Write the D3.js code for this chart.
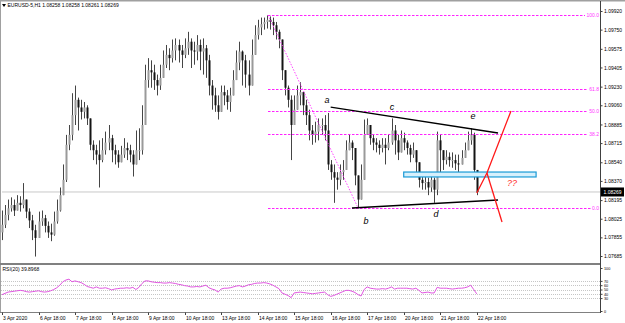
<!DOCTYPE html>
<html><head><meta charset="utf-8">
<script src="https://cdn.jsdelivr.net/npm/d3@7"></script>
<style>
html,body{margin:0;padding:0;background:#fff;overflow:hidden}
svg{display:block}
text{font-family:"Liberation Sans",Arial,sans-serif}
</style>
</head><body>
<svg id="c" width="625" height="323"></svg>
<script>
// ---------- DATA (2-hour bars starting 3 Apr 2020 18:00) ----------
const firstOpen = 1.0790;
const closes = [1.0797,1.0806,1.0812,1.0815,1.0810,1.0817,1.0815,1.0820,1.0809,1.0801,
1.0792,1.0785,1.0800,1.0803,1.0796,1.0790,1.0788,1.0800,1.0810,1.0824,
1.0838,1.0870,1.0879,1.0897,1.0911,1.0904,1.0900,1.0904,1.0894,1.0870,
1.0865,1.0861,1.0856,1.0865,1.0872,1.0876,1.0865,1.0861,1.0854,1.0861,
1.0867,1.0865,1.0861,1.0852,1.0865,1.0865,1.0888,1.0929,1.0938,1.0936,
1.0929,1.0924,1.0931,1.0943,1.0952,1.0949,1.0956,1.0961,1.0956,1.0952,
1.0958,1.0964,1.0956,1.0955,1.0961,1.0955,1.0958,1.0947,1.0924,1.0915,
1.0906,1.0900,1.0918,1.0915,1.0909,1.0915,1.0929,1.0945,1.0955,1.0947,
1.0934,1.0924,1.0952,1.0970,1.0977,1.0980,1.0982,1.0984,1.0982,1.0979,
1.0973,1.0966,1.0938,1.0922,1.0911,1.0888,1.0902,1.0915,1.0918,1.0906,
1.0897,1.0883,1.0879,1.0882,1.0888,1.0888,1.0883,1.0852,1.0845,1.0840,
1.0838,1.0845,1.0847,1.0865,1.0872,1.0867,1.0842,1.0820,1.0838,1.0879,
1.0888,1.0876,1.0872,1.0870,1.0867,1.0870,1.0867,1.0872,1.0883,1.0874,
1.0863,1.0876,1.0872,1.0867,1.0861,1.0865,1.0854,1.0838,1.0835,1.0836,
1.0831,1.0838,1.0829,1.0874,1.0865,1.0856,1.0859,1.0856,1.0856,1.0853,
1.0852,1.0858,1.0865,1.0874,1.0879,1.0847,1.08269];
const highs = [1.0810,1.0815,1.0820,1.0822,1.0820,1.0824,1.0823,1.0835,1.0820,1.0812,
1.0806,1.0797,1.0809,1.0810,1.0806,1.0800,1.0798,1.0809,1.0820,1.0831,
1.0852,1.0879,1.0888,1.0917,1.0924,1.0913,1.0911,1.0909,1.0906,1.0893,
1.0874,1.0870,1.0874,1.0876,1.0882,1.0888,1.0879,1.0870,1.0865,1.0869,
1.0876,1.0872,1.0870,1.0865,1.0883,1.0885,1.0906,1.0943,1.0949,1.0947,
1.0943,1.0934,1.0943,1.0956,1.0961,1.0958,1.0966,1.0967,1.0966,1.0961,
1.0967,1.0973,1.0967,1.0964,1.0970,1.0966,1.0967,1.0961,1.0952,1.0929,
1.0922,1.0915,1.0924,1.0924,1.0920,1.0922,1.0938,1.0956,1.0964,1.0956,
1.0952,1.0947,1.0966,1.0979,1.0984,1.0986,1.0986,1.0988,1.0987,1.0986,
1.0982,1.0975,1.0966,1.0934,1.0924,1.0915,1.0915,1.0924,1.0927,1.0915,
1.0911,1.0902,1.0888,1.0891,1.0894,1.0894,1.0897,1.0899,1.0856,1.0852,
1.0845,1.0852,1.0856,1.0874,1.0879,1.0874,1.0865,1.0838,1.0852,1.0893,
1.0894,1.0888,1.0879,1.0876,1.0874,1.0876,1.0876,1.0879,1.0894,1.0888,
1.0879,1.0883,1.0881,1.0874,1.0870,1.0872,1.0865,1.0852,1.0842,1.0842,
1.0840,1.0845,1.0840,1.0882,1.0879,1.0865,1.0865,1.0863,1.0863,1.0861,
1.0861,1.0865,1.0872,1.0882,1.0885,1.0881,1.0847];
const lows = [1.0783,1.0794,1.0801,1.0809,1.0805,1.0810,1.0809,1.0812,1.0803,1.0794,
1.0783,1.0768,1.0787,1.0796,1.0790,1.0785,1.0782,1.0787,1.0798,1.0809,
1.0824,1.0836,1.0865,1.0874,1.0888,1.0883,1.0893,1.0894,1.0888,1.0865,
1.0856,1.0852,1.0831,1.0854,1.0861,1.0865,1.0854,1.0852,1.0849,1.0854,
1.0858,1.0856,1.0854,1.0841,1.0856,1.0856,1.0861,1.0897,1.0922,1.0922,
1.0920,1.0915,1.0920,1.0934,1.0940,1.0938,1.0945,1.0947,1.0945,1.0940,
1.0949,1.0952,1.0940,1.0943,1.0947,1.0938,1.0934,1.0931,1.0915,1.0902,
1.0900,1.0893,1.0906,1.0906,1.0902,1.0900,1.0915,1.0929,1.0938,1.0924,
1.0922,1.0915,1.0938,1.0956,1.0966,1.0970,1.0975,1.0976,1.0975,1.0970,
1.0966,1.0958,1.0929,1.0915,1.0904,1.0856,1.0888,1.0902,1.0906,1.0897,
1.0888,1.0874,1.0870,1.0872,1.0874,1.0879,1.0874,1.0847,1.0838,1.0817,
1.0829,1.0833,1.0838,1.0856,1.0865,1.0856,1.0833,1.0812,1.0820,1.0842,
1.0879,1.0870,1.0865,1.0863,1.0861,1.0863,1.0852,1.0865,1.0870,1.0861,
1.0856,1.0867,1.0865,1.0861,1.0854,1.0858,1.0842,1.0831,1.0829,1.0829,
1.0824,1.0827,1.0817,1.0824,1.0842,1.0847,1.0852,1.0850,1.0849,1.0847,
1.0845,1.0852,1.0858,1.0865,1.0870,1.0838,1.0824];
const rsiValues = [38,41,44,45,46,47,48,47,45,44,
45,46,47,45,44,45,47,50,54,60,
68,72,74,68,70,68,66,62,57,55,
53,56,53,53,54,52,49,51,52,53,
53,54,53,55,50,55,64,70,70,68,
67,66,66,65,65,66,65,64,62,61,
59,58,56,56,57,56,58,60,54,51,
49,44,51,53,53,54,56,58,59,56,
58,61,62,64,65,65,66,65,63,60,
56,52,42,39,36,31,42,43,44,43,
42,41,40,41,42,43,44,38,34,36,
39,42,45,48,48,46,43,38,35,50,
56,53,52,51,51,52,51,53,56,51,
53,53,53,53,52,51,53,48,42,43,
44,42,42,55,53,53,53,52,51,52,
53,53,54,56,60,50,39.8968];
const barStepHours = 2;
const lastPrice = 1.08269;
const titleText = "EURUSD-5,H1  1.08258 1.08258 1.08261 1.08269";
const rsiTitle = "RSI(20) 39.8968";

const priceTicks = [1.09920,1.09750,1.09575,1.09405,1.09230,1.09060,1.08885,1.08715,1.08540,1.08370,1.08195,1.08025,1.07855,1.07685];
const rsiTicks = [100,70,60,50,40,30,0];
const rsiLevels = [70,60,50,40,30];
const timeTickHours = [0,24,48,72,96,120,144,168,192,216,240,264,288,312];
const timeTickLabels = ["3 Apr 2020","6 Apr 18:00","7 Apr 18:00","8 Apr 18:00","9 Apr 18:00","10 Apr 18:00","13 Apr 18:00","14 Apr 18:00","15 Apr 18:00","16 Apr 18:00","17 Apr 18:00","20 Apr 18:00","21 Apr 18:00","22 Apr 18:00"];

// Fibonacci retracement (hour, price) anchors & levels
const fibHigh = [174.8, 1.09884];
const fibLow = [234, 1.08123];
const fibLevels = [0, 38.2, 50, 61.8, 100];
const fibLabels = ["0.0","38.2","50.0","61.8","100.0"];

// Triangle trend lines (hour, price)
const upperLine = [[216, 1.09044],[326, 1.08807]];
const lowerLine = [[230, 1.08123],[326, 1.08196]];
const waveNames = ["a","b","c","d","e"];
const waveHours = [213.6, 239.2, 256.3, 285.2, 309.5];
const wavePrices = [1.09108, 1.08004, 1.09044, 1.08068, 1.08962];
// Blue zone and red projection
const zoneHours = [264, 351];
const zonePrices = [1.08406, 1.08451];
const projUp = [[312, 1.08260],[318.7, 1.08442],[334.5, 1.09008]];
const projDown = [[318.7, 1.08442],[328.6, 1.07995]];
const qLabel = {text:"??", hour:335.2, price:1.08351};

// ---------- DRAW ----------
const svg = d3.select("#c");
const x = d3.scaleLinear().domain([0, 393]).range([2, 600]);
const y = d3.scaleLinear().domain([1.07685, 1.09920]).range([256, 11]);
const yr = d3.scaleLinear().domain([0, 100]).range([311, 268]);

svg.append("rect").attr("width",625).attr("height",323).attr("fill","#fff");
svg.append("defs").append("clipPath").attr("id","mainClip")
  .append("rect").attr("x",1).attr("y",2).attr("width",600).attr("height",261);

// frame
svg.append("rect").attr("x",0).attr("y",0).attr("width",625).attr("height",1.5).attr("fill","#a0a0a0");
svg.append("line").attr("x1",0.5).attr("x2",0.5).attr("y1",0).attr("y2",312).attr("stroke","#a0a0a0");
svg.append("rect").attr("x",0).attr("y",263).attr("width",601).attr("height",2).attr("fill","#808080");
svg.append("line").attr("x1",0).attr("x2",601).attr("y1",312.5).attr("y2",312.5).attr("stroke","#808080");

const main = svg.append("g").attr("clip-path","url(#mainClip)");

// current price line
main.append("line").attr("x1",x(0)).attr("x2",600).attr("y1",y(lastPrice)).attr("y2",y(lastPrice))
  .attr("stroke","#c8c8c8").attr("stroke-width",1);

// fib
const fibPrice = l => fibLow[1] + (fibHigh[1]-fibLow[1])*l/100;
const fibG = svg.append("g");
fibG.append("line").attr("x1",x(fibHigh[0])).attr("y1",y(fibHigh[1])).attr("x2",x(fibLow[0])).attr("y2",y(fibLow[1]))
  .attr("stroke","#ff44ff").attr("stroke-width",1).attr("stroke-dasharray","1.5,1.5");
fibLevels.forEach((l,i)=>{
  const yy = Math.round(y(fibPrice(l)));
  const t = fibG.append("text").attr("x",599).attr("y",yy+1.8).attr("text-anchor","end")
    .attr("font-size",5).attr("fill","#ff33ff").text(fibLabels[i]);
  const w = t.node().getComputedTextLength();
  fibG.append("rect").attr("x",Math.round(x(fibHigh[0]))).attr("y",yy)
    .attr("width",Math.round(599-w-1)-Math.round(x(fibHigh[0]))).attr("height",1)
    .attr("fill","url(#fibDash)");
});
// dashed pattern for fib level lines
const pat = svg.select("defs").append("pattern").attr("id","fibDash").attr("patternUnits","userSpaceOnUse")
  .attr("width",4).attr("height",1);
pat.append("rect").attr("width",2.5).attr("height",1).attr("fill","#ff22ff");

// candles
const bars = closes.map((c,i)=>({h:i*barStepHours, o: i===0?firstOpen:closes[i-1], c, hi:highs[i], lo:lows[i]}));
const cg = main.append("g");
cg.selectAll("line.w").data(bars).join("line").attr("class","w")
  .attr("x1",d=>Math.round(x(d.h))+0.5).attr("x2",d=>Math.round(x(d.h))+0.5)
  .attr("y1",d=>y(Math.max(d.hi,d.o,d.c))).attr("y2",d=>y(Math.min(d.lo,d.o,d.c)))
  .attr("stroke","#454545").attr("stroke-width",1);
cg.selectAll("rect.b").data(bars).join("rect").attr("class","b")
  .attr("x",d=>Math.round(x(d.h))-0.5).attr("width",2)
  .attr("y",d=>y(Math.max(d.o,d.c))).attr("height",d=>Math.max(1,Math.abs(y(d.o)-y(d.c))))
  .attr("fill",d=>d.c>=d.o?"#9a9a9a":"#141414");

// triangle lines
const lineGen = d3.line().x(d=>x(d[0])).y(d=>y(d[1]));
[upperLine, lowerLine].forEach(L=>{
  svg.append("path").attr("d",lineGen(L)).attr("stroke","#000").attr("stroke-width",1.3).attr("fill","none");
});
waveNames.forEach((n,i)=>{
  svg.append("text").attr("x",x(waveHours[i])).attr("y",y(wavePrices[i])+3)
    .attr("text-anchor","middle").attr("font-size",9).attr("font-style","italic").attr("fill","#000").text(n);
});

// blue zone
svg.append("rect").attr("x",x(zoneHours[0])).attr("y",y(zonePrices[1]))
  .attr("width",x(zoneHours[1])-x(zoneHours[0])).attr("height",y(zonePrices[0])-y(zonePrices[1]))
  .attr("fill","#d6f0fc").attr("stroke","#1a9ad6").attr("stroke-width",1.2);

// red projection
[projUp, projDown].forEach(L=>{
  svg.append("path").attr("d",lineGen(L)).attr("stroke","#ff1a1a").attr("stroke-width",1.3).attr("fill","none");
});
svg.append("text").attr("x",x(qLabel.hour)).attr("y",y(qLabel.price)+3).attr("text-anchor","middle")
  .attr("font-size",9).attr("font-style","italic").attr("fill","#ff3030").text(qLabel.text);

// price axis
svg.append("line").attr("x1",600.5).attr("x2",600.5).attr("y1",1).attr("y2",313).attr("stroke","#404040");
const pa = svg.append("g").attr("transform","translate(600.5,0)")
  .call(d3.axisRight(y).tickValues(priceTicks).tickSize(2).tickPadding(1.5).tickFormat(d3.format(".5f")));
pa.select(".domain").remove();
pa.selectAll("text").attr("font-size",5).attr("font-family","Liberation Sans, Arial, sans-serif").attr("fill","#000");
pa.selectAll("line").attr("stroke","#404040");

// last price box
svg.append("rect").attr("x",601).attr("y",y(lastPrice)-4.5).attr("width",23).attr("height",9).attr("fill","#000");
svg.append("text").attr("x",603.5).attr("y",y(lastPrice)+2).attr("font-size",5).attr("fill","#fff").text(d3.format(".5f")(lastPrice));

// title
svg.append("path").attr("d","M2,4 L6,4 L4,7 Z").attr("fill","#000");
svg.append("text").attr("x",7.5).attr("y",7).attr("font-size",5).attr("fill","#000").text(titleText);

// RSI panel
const rg = svg.append("g");
rsiLevels.forEach(v=>{
  rg.append("line").attr("x1",1).attr("x2",600).attr("y1",Math.round(yr(v))+0.5).attr("y2",Math.round(yr(v))+0.5)
    .attr("stroke","#b8b8b8").attr("stroke-width",0.8).attr("stroke-dasharray","1,1");
});
rg.append("path").datum(rsiValues)
  .attr("d", d3.line().x((d,i)=>x(i*barStepHours)).y(d=>yr(d)))
  .attr("fill","none").attr("stroke","#e055e0").attr("stroke-width",1);
rg.append("text").attr("x",2.5).attr("y",271).attr("font-size",5).attr("fill","#000").text(rsiTitle);
const ra = svg.append("g").attr("transform","translate(600.5,0)")
  .call(d3.axisRight(yr).tickValues(rsiTicks).tickSize(2).tickPadding(1.5).tickFormat(d3.format("d")));
ra.select(".domain").remove();
ra.selectAll("text").attr("font-size",3.8).attr("font-family","Liberation Sans, Arial, sans-serif").attr("fill","#000");
ra.selectAll("line").attr("stroke","#404040");

// time axis
const ta = svg.append("g");
timeTickHours.forEach((h,i)=>{
  const xx = Math.round(x(h))+0.5;
  ta.append("line").attr("x1",xx).attr("x2",xx).attr("y1",312.5).attr("y2",315).attr("stroke","#404040");
  ta.append("text").attr("x",xx+0.5).attr("y",319.5).attr("font-size",5).attr("fill","#000").text(timeTickLabels[i]);
});
</script>
</body></html>
